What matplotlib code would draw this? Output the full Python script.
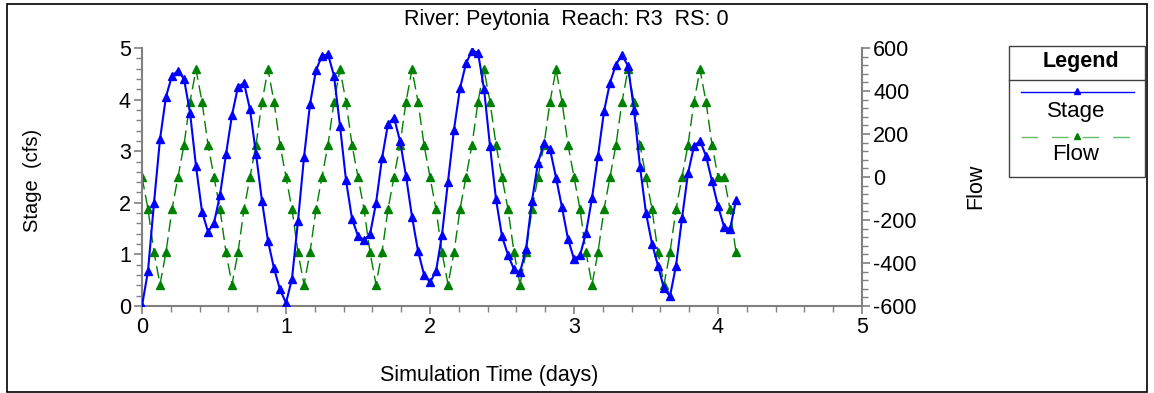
import matplotlib.pyplot as plt
from matplotlib.lines import Line2D
from matplotlib.patches import Rectangle
from matplotlib.ticker import MultipleLocator

plt.rcParams['font.family'] = ['Liberation Sans', 'DejaVu Sans']
plt.rcParams['axes.unicode_minus'] = False

# hourly samples, time in hours
hours = list(range(100))

stage = [0.00, 0.68, 2.00, 3.23, 4.06, 4.46, 4.56, 4.40, 3.75, 2.71,
         1.83, 1.44, 1.61, 2.15, 2.94, 3.70, 4.25, 4.32, 3.81, 2.95,
         2.03, 1.26, 0.73, 0.32, 0.06, 0.53, 1.65, 2.88, 3.91, 4.57,
         4.85, 4.88, 4.46, 3.49, 2.44, 1.69, 1.36, 1.28, 1.39, 1.99,
         2.86, 3.53, 3.65, 3.20, 2.52, 1.73, 1.07, 0.61, 0.46, 0.67,
         1.38, 2.41, 3.42, 4.22, 4.70, 4.95, 4.91, 4.21, 3.10, 2.07,
         1.35, 0.99, 0.71, 0.65, 1.10, 2.04, 2.78, 3.15, 3.04, 2.49,
         1.91, 1.30, 0.91, 0.98, 1.42, 2.09, 2.91, 3.77, 4.33, 4.68,
         4.87, 4.65, 3.80, 2.70, 1.80, 1.21, 0.78, 0.34, 0.19, 0.78,
         1.70, 2.57, 3.10, 3.20, 2.91, 2.42, 1.94, 1.54, 1.49, 2.05]

flow = [0, -150, -350, -500, -350, -150, 0, 150, 350, 500, 350, 150,
        0, -150, -350, -500, -350, -150, 0, 150, 350, 500, 350, 150,
        0, -150, -350, -500, -350, -150, 0, 150, 350, 500, 350, 150,
        0, -150, -350, -500, -350, -150, 0, 150, 350, 500, 350, 150,
        0, -150, -350, -500, -350, -150, 0, 150, 350, 500, 350, 150,
        0, -150, -350, -500, -350, -150, 0, 150, 350, 500, 350, 150,
        0, -150, -350, -500, -350, -150, 0, 150, 350, 500, 350, 150,
        0, -150, -350, -500, -350, -150, 0, 150, 350, 500, 350, 150,
        0, 0, -150, -350]

days = [h / 24 for h in hours]

blue = '#0000ff'
green = '#008000'
grey = '#808080'

fig = plt.figure(figsize=(11.54, 3.93), dpi=100)
ax = fig.add_axes([142 / 1154, 1 - 306 / 393, 720 / 1154, 258 / 393])
ax2 = ax.twinx()

ax.plot(days, stage, color=blue, lw=1.5, marker='^', ms=5.5, zorder=3)
ax2.plot(days, flow, color=green, lw=1.0, ls=(0, (9, 4)), marker='^', ms=5.5)
ax.set_zorder(ax2.get_zorder() + 1)
ax.patch.set_visible(False)

ax.set_xlim(0, 5)
ax.set_ylim(0, 5)
ax2.set_ylim(-600, 600)
ax.xaxis.set_major_locator(MultipleLocator(1))
ax.xaxis.set_minor_locator(MultipleLocator(0.2))
ax.yaxis.set_major_locator(MultipleLocator(1))
ax.yaxis.set_minor_locator(MultipleLocator(0.2))
ax2.yaxis.set_major_locator(MultipleLocator(200))
ax2.yaxis.set_minor_locator(MultipleLocator(40))

for a in (ax, ax2):
    a.spines['top'].set_visible(False)
    for s in ('left', 'right', 'bottom'):
        a.spines[s].set_color(grey)
        a.spines[s].set_linewidth(1.5)
    a.tick_params(which='major', direction='out', length=6, width=1.2,
                  color=grey, labelsize=15.5, pad=2)
    a.tick_params(which='minor', direction='out', length=4, width=1.0,
                  color=grey)
ax.spines['right'].set_visible(False)
ax2.spines['left'].set_visible(False)
ax2.spines['bottom'].set_visible(False)

# texts
fig.text(566 / 1154, 1 - 20 / 393, 'River: Peytonia  Reach: R3  RS: 0',
         ha='center', va='center', fontsize=15.5)
fig.text(32 / 1154, 1 - 180 / 393, 'Stage  (cfs)', rotation=90,
         ha='center', va='center', fontsize=14.5)
fig.text(489 / 1154, 1 - 376 / 393, 'Simulation Time (days)',
         ha='center', va='center', fontsize=15.5)
fig.text(976 / 1154, 1 - 186 / 393, 'Flow', rotation=90,
         ha='center', va='center', fontsize=15.5)

# outer frame
fig.patches.append(Rectangle((7 / 1154, 1 / 393), 1140 / 1154, 388 / 393,
                             transform=fig.transFigure, fill=False,
                             edgecolor='black', lw=1.2))


def fx(px):
    return px / 1154


def fy(py):
    return 1 - py / 393


# legend box
fig.patches.append(Rectangle((fx(1009), fy(177)), fx(1145) - fx(1009),
                             fy(46) - fy(177), transform=fig.transFigure,
                             fill=False, edgecolor='#404040', lw=1.0))
fig.lines.append(Line2D([fx(1009), fx(1145)], [fy(80), fy(80)],
                        transform=fig.transFigure, color='#404040', lw=1.0))
fig.text(fx(1081), fy(61), 'Legend', ha='center', va='center',
         fontsize=15.5, fontweight='bold')
fig.lines.append(Line2D([fx(1021), fx(1134)], [fy(92), fy(92)],
                        transform=fig.transFigure, color=blue, lw=1.0))
fig.lines.append(Line2D([fx(1077)], [fy(91)], transform=fig.transFigure,
                        color=blue, marker='^', ms=5, ls='none'))
fig.text(fx(1076), fy(112), 'Stage', ha='center', va='center', fontsize=16)
fig.lines.append(Line2D([fx(1021), fx(1134)], [fy(137), fy(137)],
                        transform=fig.transFigure, color='#66bb66', lw=1.0,
                        ls=(0, (12, 10))))
fig.lines.append(Line2D([fx(1077)], [fy(136)], transform=fig.transFigure,
                        color=green, marker='^', ms=5, ls='none'))
fig.text(fx(1076), fy(155), 'Flow', ha='center', va='center', fontsize=16)

fig.savefig('out.png', dpi=100)
